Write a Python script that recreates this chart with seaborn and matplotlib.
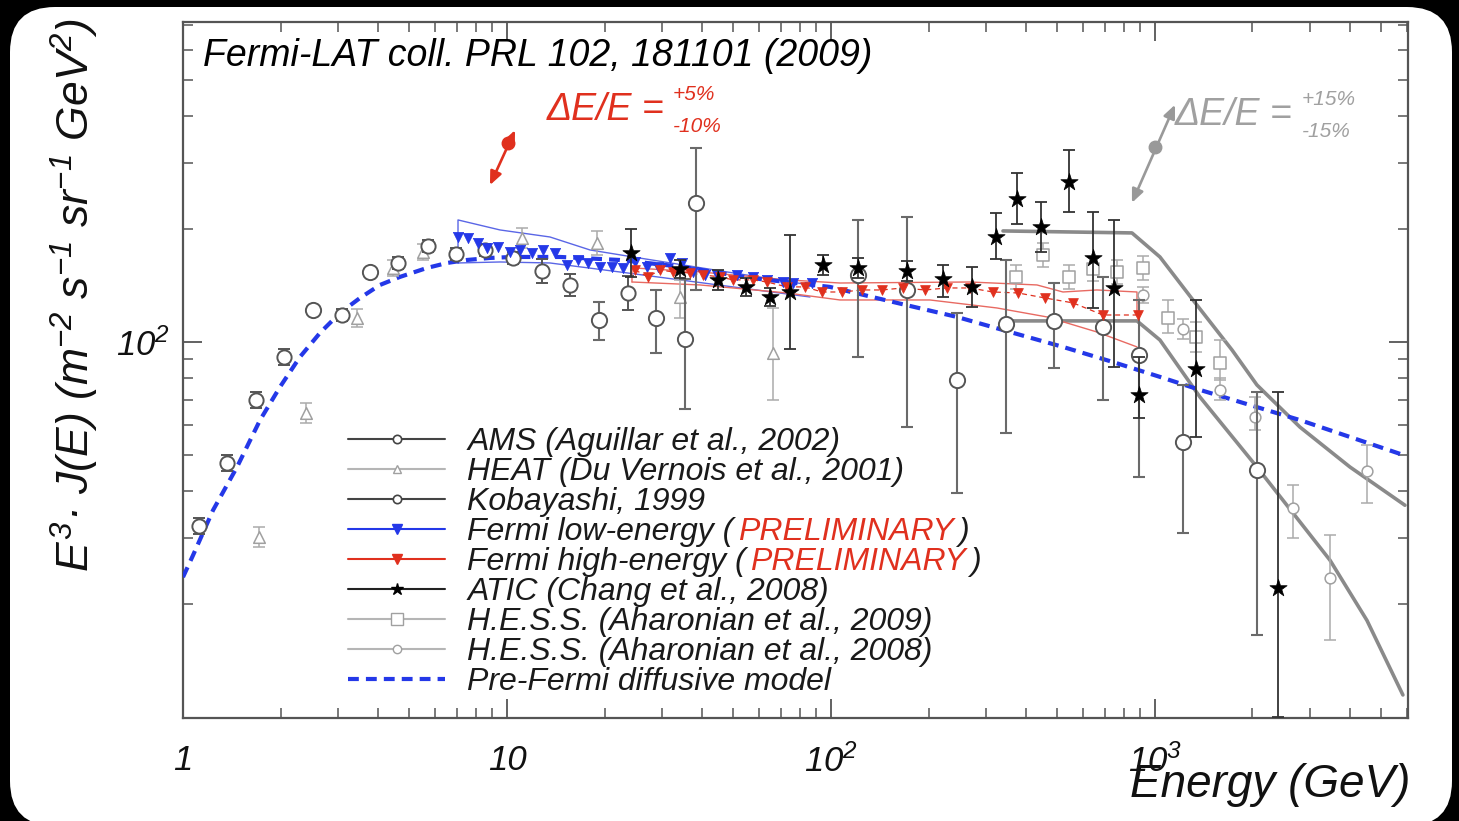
import numpy as np
import seaborn as sns
import matplotlib.pyplot as plt
from matplotlib.lines import Line2D
from matplotlib.patches import FancyBboxPatch
from matplotlib.ticker import FixedLocator, LogLocator, NullFormatter

sns.set_style("ticks")
plt.rcParams["font.family"] = ["Liberation Sans", "DejaVu Sans"]
plt.rcParams["font.style"] = "italic"
plt.rcParams["mathtext.fontset"] = "custom"
plt.rcParams["mathtext.rm"] = "Liberation Sans:italic"
plt.rcParams["mathtext.it"] = "Liberation Sans:italic"

# ---- data (E in GeV, E^3 J in m^-2 s^-1 sr^-1 GeV^2) ----
model_E = [1.0, 1.074, 1.238, 1.468, 1.729, 1.993, 2.296, 2.647, 3.052, 3.518, 4.055, 4.676, 5.66, 6.53,
           7.52, 8.86, 10.4, 14.6, 22.3, 34.9, 56.2, 99.3, 159.8, 244.8, 339.6, 520, 742, 1036, 1377, 2802, 5828]
model_J = [23.6, 27.0, 35.6, 46.4, 61.9, 75.9, 91.2, 105.7, 119.5, 131.0, 141.9, 149.1, 157.5, 162.4,
           165.4, 167.5, 168.5, 168.5, 165.4, 158.5, 148.2, 140.2, 127.1, 116.6, 107.6, 97.0, 88.4, 80.7, 74.5, 61.9, 50.0]

ams_E = [1.12, 1.367, 1.68, 2.05, 3.095, 4.61, 5.705, 6.96, 8.55, 10.43, 12.83, 15.65, 23.63]
ams_J = [32.3, 47.6, 70.0, 91.2, 118.0, 162.4, 180.3, 171.7, 175.9, 167.5, 154.6, 141.9, 135.1]
ams_lo = [30.8, 45.3, 66.7, 86.9, 113.7, 156.5, 173.8, 165.5, 169.6, 161.4, 143.6, 132.6, 121.7]
ams_hi = [33.9, 50.0, 73.5, 95.8, 122.4, 168.5, 187.1, 178.1, 182.5, 173.8, 166.4, 151.8, 150.0]

kob_E = [2.52, 3.777, 19.23, 28.84, 35.43, 38.3, 121.2, 171.7, 244.8, 346.9, 487.8, 691, 892.5, 1220, 2064]
kob_J = [121.7, 153.7, 114.5, 115.9, 101.9, 234.7, 150.9, 137.6, 79.2, 111.7, 113.8, 109.6, 92.3, 54.1, 45.6]
kob_lo = [121.7, 153.7, 101.2, 93.5, 66.3, 137.6, 91.2, 59.3, 39.6, 57.2, 85.2, 70.0, 43.7, 31.0, 16.5]
kob_hi = [121.7, 153.7, 127.8, 137.6, 147.2, 329.1, 211.5, 215.4, 119.5, 165.4, 143.6, 149.1, 129.4, 76.8, 73.6]

heat_E = [1.716, 2.397, 3.444, 4.447, 5.505, 11.13, 18.96, 34.2, 66.2]
heat_J = [30.2, 64.7, 115.9, 157.6, 173.8, 189.4, 183.7, 131.8, 93.5]
heat_lo = [28.4, 60.9, 109.6, 150.1, 165.5, 178.2, 170.7, 115.9, 70.0]
heat_hi = [32.1, 68.8, 122.5, 165.4, 182.5, 201.3, 197.7, 146.4, 123.2]

flow_E = [7.06, 7.58, 8.14, 8.68, 9.38, 10.21, 10.97, 11.95, 12.91, 14.07, 15.32, 16.56, 17.78, 19.36, 21.1,
          22.8, 24.84, 27.05, 29.24, 31.84, 34.68, 37.5, 40.85, 44.48, 51.28, 57.45, 63.45, 71.1, 76.3, 87.4]
flow_J = [190.5, 189.4, 183.7, 178.1, 179.2, 173.8, 175.9, 172.7, 175.9, 172.7, 160.4, 165.4, 162.4, 158.5, 158.5,
          157.6, 163.4, 158.5, 158.5, 167.5, 162.4, 153.7, 150.9, 150.9, 150.9, 149.1, 146.4, 144.5, 143.6, 143.6]
flow_up_E = [7.06, 7.06, 9.515, 13.57, 18.04, 24.48, 49.84, 86.15]
flow_up_J = [162.4, 211.5, 198.9, 190.5, 175.9, 168.5, 152.8, 141.9]
flow_dn_E = [7.06, 9.515, 13.57, 23.46, 49.84, 86.15]
flow_dn_J = [162.4, 163.4, 162.4, 152.8, 140.2, 131.8]

fhigh_E = [24.84, 27.24, 29.67, 32.53, 36.71, 40.26, 45.44, 49.84, 57.45, 63.45, 73.15, 83.13, 93.8, 108.1,
           124.6, 143.7, 166.8, 195.0, 228.0, 268.5, 316.2, 377.7, 457.6, 558.4, 691.0, 886.2]
fhigh_J = [155.6, 149.1, 155.6, 153.7, 152.8, 150.9, 149.1, 146.4, 146.4, 144.5, 140.2, 140.2, 135.9, 135.9,
           137.6, 137.6, 139.3, 137.6, 139.3, 139.3, 135.9, 135.1, 131.0, 127.1, 118.0, 118.0]
fhigh_up_E = [24.31, 24.31, 39.42, 73.15, 106.6, 268.5, 432.3, 520.0, 662.2, 880.0, 880.0]
fhigh_up_J = [144.5, 157.6, 153.7, 146.4, 143.6, 144.5, 141.9, 135.9, 137.6, 135.9, 118.0]
fhigh_dn_E = [24.31, 39.42, 73.15, 106.6, 202.1, 325.3, 464.2, 662.2, 880.0]
fhigh_dn_J = [144.5, 141.9, 135.1, 129.4, 129.4, 123.2, 116.6, 106.3, 97.0]

atic_E = [24.14, 34.2, 44.8, 54.66, 64.81, 74.72, 94.48, 121.2, 171.7, 221.6, 272.4, 323.1, 375.0, 444.7,
          542.8, 643.7, 747.1, 892.5, 1338, 2397]
atic_J = [172.7, 156.5, 146.4, 140.2, 131.8, 135.9, 160.4, 157.6, 154.6, 147.2, 140.2, 190.5, 240.6, 202.6,
          267.1, 167.5, 139.3, 72.2, 84.7, 22.1]
atic_lo = [149.1, 148.2, 137.6, 132.6, 124.7, 95.8, 150.9, 148.2, 145.5, 131.8, 124.0, 166.5, 206.4, 173.8,
           222.2, 123.2, 85.8, 62.7, 55.8, 10.0]
atic_hi = [200.1, 165.4, 155.6, 148.2, 139.3, 192.9, 170.6, 167.5, 164.4, 160.4, 158.5, 220.8, 282.2, 236.2,
           325.1, 222.2, 211.5, 91.2, 129.4, 73.6]

h09_E = [372.4, 451.2, 542.8, 643.7, 763.3, 918.3, 1097, 1338, 1587]
h09_J = [149.1, 170.6, 149.1, 156.5, 153.7, 157.6, 115.9, 103.1, 87.9]
h09_lo = [138.5, 158.5, 138.5, 145.4, 142.8, 146.4, 105.7, 94.2, 79.2]
h09_hi = [160.5, 183.6, 160.5, 168.5, 165.4, 169.6, 129.4, 112.8, 101.2]

h08_E = [918.3, 1220, 1587, 2035, 2666, 3468, 4511]
h08_J = [133.5, 108.3, 74.5, 63.1, 36.1, 23.5, 45.3]
h08_lo = [127.1, 101.9, 70.0, 58.2, 30.0, 16.0, 37.2]
h08_hi = [140.2, 115.1, 80.2, 71.3, 41.6, 30.6, 53.1]

hess_up_E = [339.6, 849.2, 1036, 1310, 1729, 2064, 2802, 3999, 5909]
hess_up_J = [197.7, 195.3, 168.5, 129.4, 95.2, 76.8, 59.3, 46.4, 36.7]
hess_dn_E = [339.6, 880.0, 1036, 1377, 2064, 3468, 4511, 5825]
hess_dn_J = [113.8, 113.8, 101.2, 71.3, 46.4, 26.2, 18.1, 11.45]

# energy-scale arrows: tail, head, dot
red_arrow = [(8.86, 262), (10.59, 367), (10.07, 340)]
gray_arrow = [(849, 235), (1153, 429), (1000, 331)]

labels = ["AMS (Aguillar et al., 2002)", "HEAT (Du Vernois et al., 2001)", "Kobayashi, 1999",
          "Fermi low-energy (", "Fermi high-energy (", "ATIC (Chang et al., 2008)",
          "H.E.S.S. (Aharonian et al., 2009)", "H.E.S.S. (Aharonian et al., 2008)",
          "Pre-Fermi diffusive model"]

BLUE = "#2438e8"
RED = "#e0301e"
DARK = "#555555"
LIGHT = "#ababab"

fig = plt.figure(figsize=(14.59, 8.21), dpi=100, facecolor="black")
fig.add_artist(FancyBboxPatch((0.10, -0.05), 14.42, 8.19, boxstyle="round,pad=0,rounding_size=0.45",
                              transform=fig.dpi_scale_trans, facecolor="white", edgecolor="none", zorder=-1))
ax = fig.add_axes([0.12543, 0.12546, 0.83962, 0.84775])
ax.set_xscale("log")
ax.set_yscale("log")


def line(x, y, color, lw, ls="-", z=2):
    sns.lineplot(x=x, y=y, ax=ax, color=color, lw=lw, linestyle=ls, sort=False, estimator=None, zorder=z)


def points(E, J, lo, hi, ecol, elw, cap, marker, s, face, edge, mew, z):
    J = np.array(J)
    yerr = [J - np.array(lo), np.array(hi) - J]
    ax.errorbar(E, J, yerr=yerr, fmt="none", ecolor=ecol, elinewidth=elw, capsize=cap, capthick=elw, zorder=z)
    sns.scatterplot(x=E, y=J, ax=ax, marker=marker, s=s, color=face, edgecolor=edge, linewidth=mew,
                    zorder=z + 0.5, legend=False)


# bands and model
line(hess_up_E, hess_up_J, "#8a8a8a", 2.6)
line(hess_dn_E, hess_dn_J, "#8a8a8a", 2.6)
line(flow_up_E, flow_up_J, "#5a66e6", 1.0)
line(flow_dn_E, flow_dn_J, "#5a66e6", 1.0)
line(fhigh_up_E, fhigh_up_J, "#e86a62", 1.0)
line(fhigh_dn_E, fhigh_dn_J, "#e86a62", 1.0)
line(model_E, model_J, BLUE, 3.0, (0, (2.6, 1.7)), z=3)
line(fhigh_E, fhigh_J, RED, 0.9, (0, (4, 3)), z=3)

# data sets
points(heat_E, heat_J, heat_lo, heat_hi, LIGHT, 1.1, 4, "^", 70, "white", "#a0a0a0", 1.1, 4)
points(h09_E, h09_J, h09_lo, h09_hi, LIGHT, 1.1, 4, "s", 80, "white", "#a0a0a0", 1.1, 4)
points(h08_E, h08_J, h08_lo, h08_hi, LIGHT, 1.1, 4, "o", 60, "white", "#a0a0a0", 1.1, 4)
points(kob_E, kob_J, kob_lo, kob_hi, "#6a6a6a", 1.5, 4, "o", 120, "white", DARK, 1.4, 5)
points(ams_E, ams_J, ams_lo, ams_hi, DARK, 1.4, 4, "o", 105, "white", DARK, 1.4, 5)
sns.scatterplot(x=flow_E, y=flow_J, ax=ax, marker="v", s=55, color=BLUE, edgecolor=BLUE, linewidth=0.5,
                zorder=6, legend=False)
sns.scatterplot(x=fhigh_E, y=fhigh_J, ax=ax, marker="v", s=50, color=RED, edgecolor=RED, linewidth=0.5,
                zorder=6, legend=False)
points(atic_E, atic_J, atic_lo, atic_hi, "#333333", 1.3, 4, "*", 170, "black", "black", 0.5, 7)

# energy scale uncertainty arrows
for arr, col in [(red_arrow, RED), (gray_arrow, "#999999")]:
    ax.annotate("", xy=arr[1], xytext=arr[0],
                arrowprops=dict(arrowstyle="<|-|>,head_length=0.8,head_width=0.35", color=col, lw=1.9,
                                shrinkA=0, shrinkB=0), zorder=8)
    ax.plot(*arr[2], marker="o", ms=9, color=col, zorder=8)

# axes styling
ax.set_xlim(1, 6040)
ax.set_ylim(9.94, 713)
ax.xaxis.set_major_locator(FixedLocator([1, 10, 100, 1000]))
ax.set_xticklabels(["1", "10", "$10^2$", "$10^3$"])
ax.xaxis.set_minor_locator(LogLocator(base=10, subs=np.arange(2, 10)))
ax.xaxis.set_minor_formatter(NullFormatter())
ax.yaxis.set_major_locator(FixedLocator([100]))
ax.set_yticklabels(["$10^2$"])
ax.yaxis.set_minor_locator(LogLocator(base=10, subs=np.arange(2, 10)))
ax.yaxis.set_minor_formatter(NullFormatter())
ax.tick_params(which="both", direction="in", top=True, right=True, colors="#555555", labelcolor="#111111")
ax.tick_params(which="major", length=14, width=1.3, labelsize=25)
ax.tick_params(axis="x", which="major", pad=19)
ax.tick_params(axis="y", which="major", pad=9)
ax.tick_params(which="minor", length=7, width=1.1)
for sp in ax.spines.values():
    sp.set_color("#555555")
    sp.set_linewidth(1.6)

fig.text(0.0514, 0.6407, "$E^3$· J(E) (m$^{-2}$ s$^{-1}$ sr$^{-1}$ GeV$^2$)", rotation=90,
         ha="center", va="center", fontsize=32, color="#111111")
fig.text(0.9664, 0.0292, "Energy (GeV)", ha="right", va="baseline", fontsize=33, color="#111111")
fig.text(0.1391, 0.9196, "Fermi-LAT coll. PRL 102, 181101 (2009)", ha="left", va="baseline",
         fontsize=27, color="black")

fig.text(0.3749, 0.8538, "ΔE/E =", fontsize=27, color=RED, va="baseline")
fig.text(0.4613, 0.8782, "+5%", fontsize=15, color=RED, va="baseline")
fig.text(0.4613, 0.8392, "-10%", fontsize=15, color=RED, va="baseline")
fig.text(0.8053, 0.8477, "ΔE/E =", fontsize=27, color="#a0a0a0", va="baseline")
fig.text(0.8924, 0.8721, "+15%", fontsize=15, color="#a0a0a0", va="baseline")
fig.text(0.8924, 0.8331, "-15%", fontsize=15, color="#a0a0a0", va="baseline")

# legend
handles = [
    Line2D([], [], color="#444444", lw=1.5, marker="o", ms=6, mfc="white", mec="#444444", mew=1.2),
    Line2D([], [], color="#b5b5b5", lw=1.5, marker="^", ms=6, mfc="white", mec="#a0a0a0", mew=1.0),
    Line2D([], [], color="#444444", lw=1.5, marker="o", ms=6, mfc="white", mec="#444444", mew=1.2),
    Line2D([], [], color=BLUE, lw=1.5, marker="v", ms=7, mfc=BLUE, mec=BLUE),
    Line2D([], [], color=RED, lw=1.5, marker="v", ms=7, mfc=RED, mec=RED),
    Line2D([], [], color="#222222", lw=1.5, marker="*", ms=9, mfc="black", mec="black"),
    Line2D([], [], color="#b5b5b5", lw=1.5, marker="s", ms=8, mfc="white", mec="#a0a0a0", mew=1.0),
    Line2D([], [], color="#b5b5b5", lw=1.5, marker="o", ms=6, mfc="white", mec="#a0a0a0", mew=1.0),
    Line2D([], [], color=BLUE, lw=3, linestyle=(0, (2.6, 1.7))),
]
leg = ax.legend(handles, labels, loc="upper left", bbox_to_anchor=(0.1347, 0.418), frameon=False,
                fontsize=23, handlelength=3.05, handletextpad=0.68, labelspacing=0.0, borderpad=0,
                borderaxespad=0, numpoints=1, labelcolor="#1a1a1a")
leg.set_zorder(9)
for i in (3, 4):
    t = leg.get_texts()[i]
    a = ax.annotate("PRELIMINARY", xy=(1, 0), xycoords=t, xytext=(3, 0), textcoords="offset points",
                    ha="left", va="bottom", fontsize=23, color=RED, zorder=10)
    ax.annotate(")", xy=(1, 0), xycoords=a, xytext=(3, 0), textcoords="offset points",
                ha="left", va="bottom", fontsize=23, color="#1a1a1a", zorder=10)

fig.canvas.draw()
fig.savefig("out.png", dpi=100, facecolor=fig.get_facecolor())
